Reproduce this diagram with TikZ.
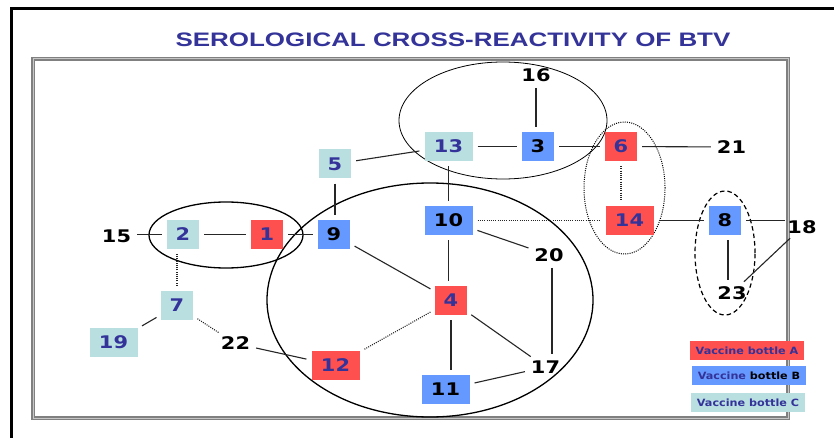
\documentclass[tikz,border=0pt]{standalone}
\usepackage{fontspec}
\setmainfont{DejaVu Sans}
\newfontfamily\numfont{DejaVu Sans}[FakeStretch=1.2]
\newfontfamily\titlefont{Liberation Sans}[FakeStretch=1.33]
\newfontfamily\legfont{DejaVu Sans}[FakeStretch=1.12]
\definecolor{nred}{HTML}{FF5050}
\definecolor{nblue}{HTML}{6699FF}
\definecolor{nteal}{HTML}{B9DFE1}
\definecolor{ndblue}{HTML}{333399}
\definecolor{fgray}{HTML}{808080}
\tikzset{
  bx/.style={inner sep=0pt, minimum height=29pt, minimum width=32pt,
    font=\numfont\bfseries\fontsize{17.4}{18}\selectfont},
  wide/.style={minimum width=48pt},
  rb/.style={bx, fill=nred, text=ndblue},
  bb/.style={bx, fill=nblue, text=black},
  tb/.style={bx, fill=nteal, text=ndblue},
  lb/.style={inner sep=1pt, text=black,
    font=\numfont\bfseries\fontsize{17.4}{18}\selectfont},
  edge/.style={line width=1.1pt, draw=black!85, shorten <=5pt, shorten >=5pt},
  dotedge/.style={edge, dash pattern=on 1pt off 1.2pt},
  leg/.style={inner sep=0pt, minimum width=114pt, minimum height=19pt,
    font=\legfont\bfseries\fontsize{10}{11}\selectfont, text=ndblue},
}
\begin{document}
\begin{tikzpicture}[x=1pt,y=-1pt]
\useasboundingbox (0,0) rectangle (834,438);
\fill[white] (0,0) rectangle (834,438);
% outer frame
\draw[line width=3pt, black] (11,438) -- (11,9) -- (834,9);
% inner frame
\draw[line width=3.2pt, fgray] (33,59) rectangle (788,418);
\draw[line width=1pt, gray!45] (33,59) rectangle (788,418);
% title
\node[font=\titlefont\bfseries\fontsize{19.5}{21}\selectfont, text=ndblue, inner sep=0pt]
  (title) at (453,40) {SEROLOGICAL CROSS-REACTIVITY OF BTV};
% ellipses
\draw[line width=0.8pt] (503,120.5) ellipse [x radius=104pt, y radius=58.5pt];
\draw[line width=1.3pt] (226,235) ellipse [x radius=77pt, y radius=33pt];
\draw[line width=1.3pt] (430,300) ellipse [x radius=163pt, y radius=117pt];
\draw[line width=1pt, dash pattern=on 1pt off 1.2pt] (624.5,188) ellipse [x radius=40.5pt, y radius=66pt];
\draw[line width=1.2pt, dash pattern=on 4.5pt off 3pt] (725,253) ellipse [x radius=30pt, y radius=62pt];
% nodes
\node[lb] (n16) at (536,75) {16};
\node[tb,wide] (n13) at (448.5,146.5) {13};
\node[bb] (n3) at (538,146.5) {3};
\node[rb] (n6) at (621,146.5) {6};
\node[lb] (n21) at (731.5,147) {21};
\node[tb] (n5) at (335,164) {5};
\node[bb] (n9) at (334,234.5) {9};
\node[bb,wide] (n10) at (448.5,220.5) {10};
\node[lb] (n20) at (549,255) {20};
\node[rb] (n4) at (451,300.5) {4};
\node[rb,wide] (n12) at (335.5,365.5) {12};
\node[bb,wide] (n11) at (445.5,389.5) {11};
\node[lb] (n17) at (545.5,367) {17};
\node[rb] (n1) at (267,234.5) {1};
\node[tb] (n2) at (183,234.5) {2};
\node[lb] (n15) at (116.5,236) {15};
\node[tb] (n7) at (177,305.5) {7};
\node[tb,wide] (n19) at (113.5,342.5) {19};
\node[lb] (n22) at (235.5,343.5) {22};
\node[rb,wide] (n14) at (629.5,220.5) {14};
\node[bb] (n8) at (725,220.5) {8};
\node[lb] (n18) at (802,227) {18};
\node[lb] (n23) at (732,293) {23};
% edges
\draw[edge] (n16.south) -- (n16.south |- n3.north);
\draw[edge] (n13) -- (n3);
\draw[edge] (n3) -- (n6);
\draw[edge] (n6) -- (n21);
\draw[edge] (n5) -- (n13);
\draw[edge] (n5.south) -- (n5.south |- n9.north);
\draw[edge] (n13) -- (n10);
\draw[dotedge] (n10) -- (n14);
\draw[dotedge] (n6.south) -- (n6.south |- n14.north);
\draw[edge] (n14) -- (n8);
\draw[edge, shorten >=1pt] (n8.east) -- (n18.west |- n8.east);
\draw[edge] (n18) -- (n23);
\draw[edge] ([xshift=3pt]n8.south) -- ([xshift=3pt]n8.south |- n23.north);
\draw[edge] (n10) -- (n20);
\draw[edge] ([xshift=3pt]n20.south) -- ([xshift=3pt]n20.south |- n17.north);
\draw[edge] (n10.south) -- (n10.south |- n4.north);
\draw[edge] (n9) -- (n4);
\draw[dotedge] (n4) -- (n12);
\draw[edge] (n4.south) -- (n4.south |- n11.north);
\draw[edge] (n4) -- (n17);
\draw[edge] (n11) -- (n17);
\draw[edge] (n2.west) -- (n2.west -| n15.east);
\draw[edge] (n2) -- (n1);
\draw[edge] (n1) -- (n9);
\draw[dotedge] (n7.north) -- (n7.north |- n2.south);
\draw[edge] (n7) -- (n19);
\draw[dotedge] (n7) -- (n22);
\draw[edge] (n22) -- (n12);
% legend
\node[leg, fill=nred] (legA) at (747,350.5) {Vaccine bottle A};
\node[leg, fill=nblue] (legB) at (749,375.5) {Vaccine \textcolor{black}{bottle B}};
\node[leg, fill=nteal] (legC) at (748,402.5) {Vaccine bottle C};
\end{tikzpicture}
\end{document}
